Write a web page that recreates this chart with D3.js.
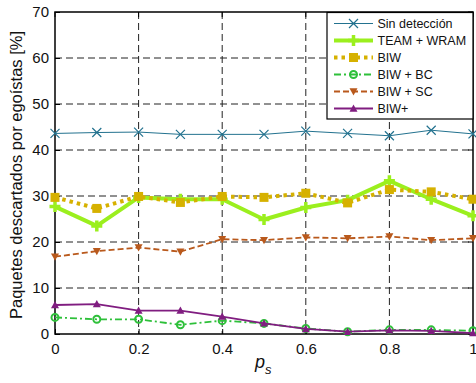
<!DOCTYPE html>
<html><head><meta charset="utf-8">
<script src="https://cdn.jsdelivr.net/npm/d3@7"></script>
<style>body{margin:0;background:#fff}svg{display:block;font-family:"Liberation Sans",Arial,sans-serif}</style>
</head><body><svg id="c" width="476" height="383"></svg>
<script>
const ps = [0,0.1,0.2,0.3,0.4,0.5,0.6,0.7,0.8,0.9,1.0];
const sinDeteccion = [43.6,43.8,43.9,43.4,43.4,43.4,44.1,43.6,43.1,44.3,43.5];
const teamWram = [27.7,23.5,29.7,29.3,29.3,24.9,27.5,29.1,33.3,29.3,25.7];
const biw = [29.7,27.3,29.9,28.6,29.9,29.7,30.6,28.5,31.4,30.9,29.3];
const biwBC = [3.6,3.2,3.2,2.0,2.9,2.3,1.2,0.5,0.9,0.9,0.7];
const biwSC = [16.8,18.0,18.8,17.9,20.6,20.4,21.0,20.8,21.2,20.4,20.8];
const biwPlus = [6.3,6.5,5.1,5.1,3.8,2.3,1.1,0.5,0.8,0.7,0.2];
const xTicks = [0,0.2,0.4,0.6,0.8,1];
const xTickLabels = ["0","0.2","0.4","0.6","0.8","1"];
const yTicks = [0,10,20,30,40,50,60,70];
const seriesNames = ["Sin detección","TEAM + WRAM","BIW","BIW + BC","BIW + SC","BIW+"];

const styles = [
  {color:"#23728f", width:1, dash:null, marker:"x", msize:9},
  {color:"#9bef1e", width:4, dash:null, marker:"plus", msize:11},
  {color:"#d6b100", width:4, dash:"3.5,4", marker:"square", msize:9},
  {color:"#2ec03a", width:1.8, dash:"7,3,2,3", marker:"circle", msize:9},
  {color:"#b9591c", width:1.8, dash:"6,3", marker:"tridown", msize:8},
  {color:"#801d80", width:1.8, dash:null, marker:"triup", msize:8}
];
const data = [sinDeteccion, teamWram, biw, biwBC, biwSC, biwPlus];

const L=55, R=473, T=12, B=334;
const svg = d3.select("#c");
const x = d3.scaleLinear().domain([0,1]).range([L,R]);
const y = d3.scaleLinear().domain([0,70]).range([B,T]);

// grid
const g = svg.append("g");
g.selectAll(".gx").data(xTicks.filter(t=>t>0&&t<1)).join("line")
  .attr("x1",d=>x(d)).attr("x2",d=>x(d)).attr("y1",T).attr("y2",B)
  .attr("stroke","#222").attr("stroke-width",1).attr("stroke-dasharray","7,4");
g.selectAll(".gy").data(yTicks.filter(t=>t>0&&t<70)).join("line")
  .attr("y1",d=>y(d)).attr("y2",d=>y(d)).attr("x1",L).attr("x2",R)
  .attr("stroke","#222").attr("stroke-width",1).attr("stroke-dasharray","7,4");

// axes
const xAxis = d3.axisBottom(x).tickValues(xTicks).tickFormat((d,i)=>xTickLabels[i]).tickSizeInner(-5).tickSizeOuter(0).tickPadding(9);
const yAxis = d3.axisLeft(y).tickValues(yTicks).tickSizeInner(-5).tickSizeOuter(0).tickPadding(6);
const gx = svg.append("g").attr("transform",`translate(0,${B})`).call(xAxis);
const gy = svg.append("g").attr("transform",`translate(${L},0)`).call(yAxis);
[gx,gy].forEach(a=>{
  a.select(".domain").remove();
  a.selectAll("text").attr("font-size",15).attr("fill","#111").attr("font-family","Liberation Sans, Arial, sans-serif");
  a.selectAll("line").attr("stroke","#000");
});
gx.selectAll("text").attr("dy","0.71em");
// top/right ticks
svg.append("g").selectAll("line").data(xTicks).join("line")
  .attr("x1",d=>x(d)).attr("x2",d=>x(d)).attr("y1",T).attr("y2",T+5).attr("stroke","#000");
svg.append("g").selectAll("line").data(yTicks).join("line")
  .attr("y1",d=>y(d)).attr("y2",d=>y(d)).attr("x1",R).attr("x2",R-5).attr("stroke","#000");

svg.append("rect").attr("x",L).attr("y",T).attr("width",R-L).attr("height",B-T)
  .attr("fill","none").attr("stroke","#000").attr("stroke-width",1.5);

function drawMarker(sel, type, s, color){
  const h=s/2;
  if(type==="x"){
    sel.append("path").attr("d",`M${-h},${-h}L${h},${h}M${-h},${h}L${h},${-h}`).attr("stroke",color).attr("stroke-width",1.2).attr("fill","none");
  } else if(type==="plus"){
    sel.append("path").attr("d",`M${-h},0L${h},0M0,${-h}L0,${h}`).attr("stroke",color).attr("stroke-width",3.5).attr("fill","none");
  } else if(type==="square"){
    sel.append("rect").attr("x",-h).attr("y",-h).attr("width",s).attr("height",s).attr("fill",color);
  } else if(type==="circle"){
    sel.append("circle").attr("r",h-1).attr("fill","none").attr("stroke",color).attr("stroke-width",2);
  } else if(type==="tridown"){
    sel.append("path").attr("d",`M${-h},${-h*0.8}L${h},${-h*0.8}L0,${h}Z`).attr("fill",color);
  } else if(type==="triup"){
    sel.append("path").attr("d",`M${-h},${h*0.8}L${h},${h*0.8}L0,${-h}Z`).attr("fill",color);
  }
}

const line = d3.line().x((d,i)=>x(ps[i])).y(d=>y(d));
data.forEach((vals,k)=>{
  const st = styles[k];
  const sg = svg.append("g");
  sg.append("path").datum(vals).attr("d",line).attr("fill","none")
    .attr("stroke",st.color).attr("stroke-width",st.width)
    .attr("stroke-dasharray",st.dash).attr("stroke-linejoin","round");
  vals.forEach((v,i)=>{
    const m = sg.append("g").attr("transform",`translate(${x(ps[i])},${y(v)})`);
    drawMarker(m, st.marker, st.msize, st.color);
  });
});

// legend
const lg = svg.append("g");
lg.append("rect").attr("x",327).attr("y",12.5).attr("width",146).attr("height",106.5)
  .attr("fill","#fff").attr("stroke","#000").attr("stroke-width",1.2);
seriesNames.forEach((name,k)=>{
  const st = styles[k];
  const yy = 23.5 + k*17;
  lg.append("line").attr("x1",334).attr("x2",373).attr("y1",yy).attr("y2",yy)
    .attr("stroke",st.color).attr("stroke-width",st.width).attr("stroke-dasharray",st.dash);
  const m = lg.append("g").attr("transform",`translate(353.5,${yy})`);
  drawMarker(m, st.marker, st.msize, st.color);
  lg.append("text").attr("x",377.5).attr("y",yy).attr("dy","0.36em")
    .attr("font-size",12.5).attr("fill","#111").text(name);
});

// axis labels
svg.append("text").attr("transform",`translate(22,${(T+B)/2+2}) rotate(-90)`)
  .attr("text-anchor","middle").attr("font-size",16.5).attr("fill","#111")
  .text("Paquetes descartados por egoístas [%]");
const xl = svg.append("text").attr("x",255).attr("y",368).attr("font-size",18).attr("fill","#111").attr("font-style","italic");
xl.append("tspan").text("p");
xl.append("tspan").attr("font-size",13).attr("dy",6).text("s");
</script></body></html>
